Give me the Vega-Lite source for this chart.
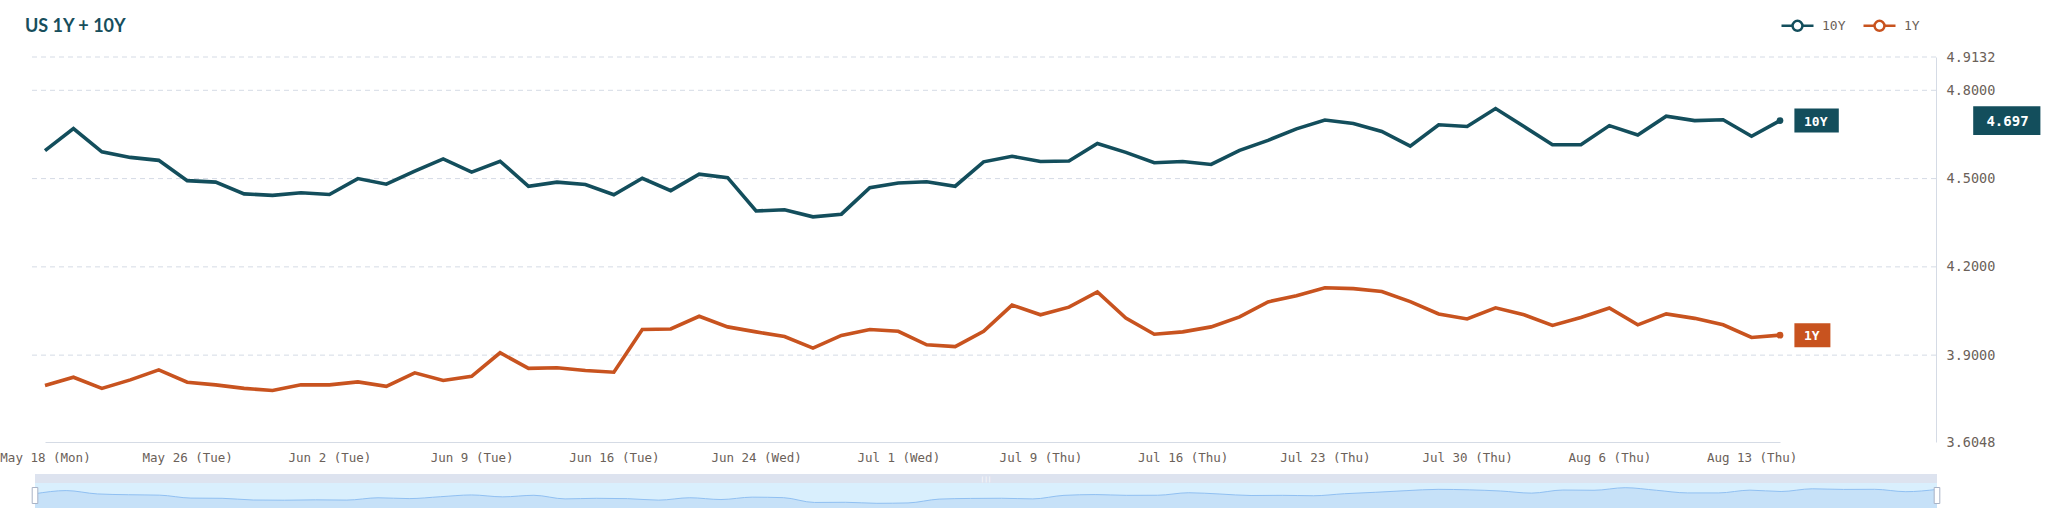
{
  "$schema": "https://vega.github.io/schema/vega-lite/v6.json",
  "description": "US 1Y and 10Y yields, trading days May 18 - Aug 14",
  "width": 1906,
  "height": 385,
  "autosize": {"type": "none"},
  "padding": {"left": 30, "top": 57, "right": 112, "bottom": 71},
  "background": "#ffffff",
  "title": {
    "text": "US 1Y + 10Y",
    "anchor": "start",
    "frame": "group",
    "dx": -5,
    "offset": -42,
    "baseline": "alphabetic",
    "font": "Lato",
    "fontSize": 18,
    "fontWeight": "bold",
    "color": "#174e5c"
  },
  "datasets": {
    "rates": [
      {"date": "2026-05-18", "series": "10Y", "value": 4.595},
      {"date": "2026-05-19", "series": "10Y", "value": 4.670},
      {"date": "2026-05-20", "series": "10Y", "value": 4.591},
      {"date": "2026-05-21", "series": "10Y", "value": 4.572},
      {"date": "2026-05-22", "series": "10Y", "value": 4.562},
      {"date": "2026-05-26", "series": "10Y", "value": 4.493},
      {"date": "2026-05-27", "series": "10Y", "value": 4.488},
      {"date": "2026-05-28", "series": "10Y", "value": 4.448},
      {"date": "2026-05-29", "series": "10Y", "value": 4.443},
      {"date": "2026-06-01", "series": "10Y", "value": 4.452},
      {"date": "2026-06-02", "series": "10Y", "value": 4.446},
      {"date": "2026-06-03", "series": "10Y", "value": 4.500},
      {"date": "2026-06-04", "series": "10Y", "value": 4.481},
      {"date": "2026-06-05", "series": "10Y", "value": 4.525},
      {"date": "2026-06-08", "series": "10Y", "value": 4.567},
      {"date": "2026-06-09", "series": "10Y", "value": 4.522},
      {"date": "2026-06-10", "series": "10Y", "value": 4.559},
      {"date": "2026-06-11", "series": "10Y", "value": 4.474},
      {"date": "2026-06-12", "series": "10Y", "value": 4.488},
      {"date": "2026-06-15", "series": "10Y", "value": 4.480},
      {"date": "2026-06-16", "series": "10Y", "value": 4.445},
      {"date": "2026-06-17", "series": "10Y", "value": 4.501},
      {"date": "2026-06-18", "series": "10Y", "value": 4.459},
      {"date": "2026-06-22", "series": "10Y", "value": 4.515},
      {"date": "2026-06-23", "series": "10Y", "value": 4.503},
      {"date": "2026-06-24", "series": "10Y", "value": 4.390},
      {"date": "2026-06-25", "series": "10Y", "value": 4.394},
      {"date": "2026-06-26", "series": "10Y", "value": 4.370},
      {"date": "2026-06-29", "series": "10Y", "value": 4.379},
      {"date": "2026-06-30", "series": "10Y", "value": 4.469},
      {"date": "2026-07-01", "series": "10Y", "value": 4.485},
      {"date": "2026-07-02", "series": "10Y", "value": 4.489},
      {"date": "2026-07-06", "series": "10Y", "value": 4.474},
      {"date": "2026-07-07", "series": "10Y", "value": 4.557},
      {"date": "2026-07-08", "series": "10Y", "value": 4.576},
      {"date": "2026-07-09", "series": "10Y", "value": 4.558},
      {"date": "2026-07-10", "series": "10Y", "value": 4.560},
      {"date": "2026-07-13", "series": "10Y", "value": 4.619},
      {"date": "2026-07-14", "series": "10Y", "value": 4.589},
      {"date": "2026-07-15", "series": "10Y", "value": 4.554},
      {"date": "2026-07-16", "series": "10Y", "value": 4.558},
      {"date": "2026-07-17", "series": "10Y", "value": 4.548},
      {"date": "2026-07-20", "series": "10Y", "value": 4.596},
      {"date": "2026-07-21", "series": "10Y", "value": 4.630},
      {"date": "2026-07-22", "series": "10Y", "value": 4.669},
      {"date": "2026-07-23", "series": "10Y", "value": 4.699},
      {"date": "2026-07-24", "series": "10Y", "value": 4.687},
      {"date": "2026-07-27", "series": "10Y", "value": 4.660},
      {"date": "2026-07-28", "series": "10Y", "value": 4.610},
      {"date": "2026-07-29", "series": "10Y", "value": 4.683},
      {"date": "2026-07-30", "series": "10Y", "value": 4.677},
      {"date": "2026-07-31", "series": "10Y", "value": 4.738},
      {"date": "2026-08-03", "series": "10Y", "value": 4.677},
      {"date": "2026-08-04", "series": "10Y", "value": 4.615},
      {"date": "2026-08-05", "series": "10Y", "value": 4.615},
      {"date": "2026-08-06", "series": "10Y", "value": 4.680},
      {"date": "2026-08-07", "series": "10Y", "value": 4.648},
      {"date": "2026-08-10", "series": "10Y", "value": 4.712},
      {"date": "2026-08-11", "series": "10Y", "value": 4.697},
      {"date": "2026-08-12", "series": "10Y", "value": 4.700},
      {"date": "2026-08-13", "series": "10Y", "value": 4.644},
      {"date": "2026-08-14", "series": "10Y", "value": 4.697},
      {"date": "2026-05-18", "series": "1Y", "value": 3.797},
      {"date": "2026-05-19", "series": "1Y", "value": 3.825},
      {"date": "2026-05-20", "series": "1Y", "value": 3.787},
      {"date": "2026-05-21", "series": "1Y", "value": 3.816},
      {"date": "2026-05-22", "series": "1Y", "value": 3.850},
      {"date": "2026-05-26", "series": "1Y", "value": 3.808},
      {"date": "2026-05-27", "series": "1Y", "value": 3.799},
      {"date": "2026-05-28", "series": "1Y", "value": 3.787},
      {"date": "2026-05-29", "series": "1Y", "value": 3.780},
      {"date": "2026-06-01", "series": "1Y", "value": 3.799},
      {"date": "2026-06-02", "series": "1Y", "value": 3.799},
      {"date": "2026-06-03", "series": "1Y", "value": 3.809},
      {"date": "2026-06-04", "series": "1Y", "value": 3.794},
      {"date": "2026-06-05", "series": "1Y", "value": 3.840},
      {"date": "2026-06-08", "series": "1Y", "value": 3.814},
      {"date": "2026-06-09", "series": "1Y", "value": 3.828},
      {"date": "2026-06-10", "series": "1Y", "value": 3.908},
      {"date": "2026-06-11", "series": "1Y", "value": 3.855},
      {"date": "2026-06-12", "series": "1Y", "value": 3.857},
      {"date": "2026-06-15", "series": "1Y", "value": 3.848},
      {"date": "2026-06-16", "series": "1Y", "value": 3.842},
      {"date": "2026-06-17", "series": "1Y", "value": 3.987},
      {"date": "2026-06-18", "series": "1Y", "value": 3.989},
      {"date": "2026-06-22", "series": "1Y", "value": 4.032},
      {"date": "2026-06-23", "series": "1Y", "value": 3.996},
      {"date": "2026-06-24", "series": "1Y", "value": 3.979},
      {"date": "2026-06-25", "series": "1Y", "value": 3.963},
      {"date": "2026-06-26", "series": "1Y", "value": 3.924},
      {"date": "2026-06-29", "series": "1Y", "value": 3.967},
      {"date": "2026-06-30", "series": "1Y", "value": 3.987},
      {"date": "2026-07-01", "series": "1Y", "value": 3.981},
      {"date": "2026-07-02", "series": "1Y", "value": 3.935},
      {"date": "2026-07-06", "series": "1Y", "value": 3.929},
      {"date": "2026-07-07", "series": "1Y", "value": 3.981},
      {"date": "2026-07-08", "series": "1Y", "value": 4.070},
      {"date": "2026-07-09", "series": "1Y", "value": 4.037},
      {"date": "2026-07-10", "series": "1Y", "value": 4.063},
      {"date": "2026-07-13", "series": "1Y", "value": 4.115},
      {"date": "2026-07-14", "series": "1Y", "value": 4.026},
      {"date": "2026-07-15", "series": "1Y", "value": 3.971},
      {"date": "2026-07-16", "series": "1Y", "value": 3.979},
      {"date": "2026-07-17", "series": "1Y", "value": 3.996},
      {"date": "2026-07-20", "series": "1Y", "value": 4.030},
      {"date": "2026-07-21", "series": "1Y", "value": 4.081},
      {"date": "2026-07-22", "series": "1Y", "value": 4.102},
      {"date": "2026-07-23", "series": "1Y", "value": 4.129},
      {"date": "2026-07-24", "series": "1Y", "value": 4.126},
      {"date": "2026-07-27", "series": "1Y", "value": 4.116},
      {"date": "2026-07-28", "series": "1Y", "value": 4.082},
      {"date": "2026-07-29", "series": "1Y", "value": 4.040},
      {"date": "2026-07-30", "series": "1Y", "value": 4.023},
      {"date": "2026-07-31", "series": "1Y", "value": 4.061},
      {"date": "2026-08-03", "series": "1Y", "value": 4.037},
      {"date": "2026-08-04", "series": "1Y", "value": 4.001},
      {"date": "2026-08-05", "series": "1Y", "value": 4.028},
      {"date": "2026-08-06", "series": "1Y", "value": 4.060},
      {"date": "2026-08-07", "series": "1Y", "value": 4.003},
      {"date": "2026-08-10", "series": "1Y", "value": 4.040},
      {"date": "2026-08-11", "series": "1Y", "value": 4.025},
      {"date": "2026-08-12", "series": "1Y", "value": 4.003},
      {"date": "2026-08-13", "series": "1Y", "value": 3.960},
      {"date": "2026-08-14", "series": "1Y", "value": 3.968}
    ],
    "gridlines": [
      {"value": 3.9},
      {"value": 4.2},
      {"value": 4.5},
      {"value": 4.8},
      {"value": 4.9132}
    ]
  },
  "data": {"name": "rates"},
  "layer": [
    {
      "encoding": {
        "y": {
          "field": "value",
          "type": "quantitative",
          "scale": {"domain": [3.6048, 4.9132], "nice": false, "zero": false},
          "axis": {
            "orient": "right",
            "values": [3.6048, 3.9, 4.2, 4.5, 4.8, 4.9132],
            "format": ".4f",
            "title": null,
            "ticks": false,
            "labelPadding": 10,
            "labelAlign": "left",
            "labelBaseline": "middle",
            "labelFont": "DejaVu Sans Mono",
            "labelFontSize": 13.5,
            "labelColor": "#6b6159",
            "labelFlush": false,
            "labelBound": false,
            "grid": false,
            "domainColor": "#d5dbe5",
            "domainWidth": 1
          }
        }
      },
      "layer": [
        {
          "data": {"name": "gridlines"},
          "mark": {"type": "rule", "color": "#d5dbe5", "strokeWidth": 1, "strokeDash": [5, 4]},
          "encoding": {}
        },
        {
          "mark": {"type": "line", "strokeWidth": 3.6},
          "encoding": {
            "x": {
              "field": "date",
              "type": "ordinal",
              "scale": {"type": "point", "padding": 0, "range": [15, 1750]},
              "axis": {
                "values": ["2026-05-18", "2026-05-26", "2026-06-02", "2026-06-09", "2026-06-16", "2026-06-24", "2026-07-01", "2026-07-09", "2026-07-16", "2026-07-23", "2026-07-30", "2026-08-06", "2026-08-13"],
                "labelExpr": "utcFormat(toDate(datum.value), '%b %-d (%a)')",
                "title": null,
                "ticks": false,
                "grid": false,
                "labelAngle": 0,
                "labelPadding": 9,
                "labelFont": "DejaVu Sans Mono",
                "labelFontSize": 12.5,
                "labelColor": "#6b6159",
                "labelOverlap": false,
                "labelBound": false,
                "labelFlush": false,
                "domainColor": "#d5dbe5",
                "domainWidth": 1
              }
            },
            "color": {
              "field": "series",
              "type": "nominal",
              "scale": {"domain": ["10Y", "1Y"], "range": ["#134e5c", "#c8531f"]},
              "legend": {
                "orient": "none",
                "legendX": 1750,
                "legendY": -49,
                "direction": "horizontal",
                "title": null,
                "padding": 0,
                "symbolType": "M-1,0H-0.31M0.31,0H1M0.31,0A0.31,0.31,0,1,1,-0.31,0A0.31,0.31,0,1,1,0.31,0",
                "symbolSize": 1024,
                "symbolStrokeWidth": 2.5,
                "symbolFillColor": "#ffffff",
                "labelFont": "DejaVu Sans Mono",
                "labelFontSize": 13,
                "labelColor": "#6b6159",
                "labelOffset": 7,
                "columnPadding": 12
              }
            }
          }
        },
        {
          "transform": [{"filter": "datum.date == '2026-08-14' && datum.series == '10Y'"}],
          "mark": {"type": "point", "filled": true, "size": 45, "opacity": 1, "strokeWidth": 0, "color": "#134e5c"},
          "encoding": {"x": {"field": "date", "type": "ordinal"}}
        },
        {
          "transform": [{"filter": "datum.date == '2026-08-14' && datum.series == '1Y'"}],
          "mark": {"type": "point", "filled": true, "size": 45, "opacity": 1, "strokeWidth": 0, "color": "#c8531f"},
          "encoding": {"x": {"field": "date", "type": "ordinal"}}
        },
        {
          "transform": [{"filter": "datum.date == '2026-08-14' && datum.series == '10Y'"}],
          "mark": {"type": "point", "filled": true, "size": 576, "opacity": 1, "strokeWidth": 0, "color": "#134e5c", "shape": "M1.2,-1H4.9V1H1.2Z"},
          "encoding": {"x": {"field": "date", "type": "ordinal"}}
        },
        {
          "transform": [{"filter": "datum.date == '2026-08-14' && datum.series == '1Y'"}],
          "mark": {"type": "point", "filled": true, "size": 576, "opacity": 1, "strokeWidth": 0, "color": "#c8531f", "shape": "M1.2,-1H4.2V1H1.2Z"},
          "encoding": {"x": {"field": "date", "type": "ordinal"}}
        },
        {
          "transform": [{"filter": "datum.date == '2026-08-14'"}],
          "mark": {"type": "text", "align": "left", "baseline": "middle", "dx": 24, "dy": 1, "font": "DejaVu Sans Mono", "fontSize": 13, "fontWeight": "bold", "color": "#ffffff"},
          "encoding": {"x": {"field": "date", "type": "ordinal"}, "text": {"field": "series"}}
        },
        {
          "transform": [{"filter": "datum.date == '2026-08-14' && datum.series == '10Y'"}],
          "mark": {"type": "point", "filled": true, "size": 576, "opacity": 1, "strokeWidth": 0, "color": "#134e5c", "shape": "M16.1,-1.2H21.7V1.2H16.1Z"},
          "encoding": {"x": {"field": "date", "type": "ordinal"}}
        },
        {
          "transform": [{"filter": "datum.date == '2026-08-14' && datum.series == '10Y'"}],
          "mark": {"type": "text", "align": "center", "baseline": "middle", "dx": 227.5, "dy": 1, "font": "DejaVu Sans Mono", "fontSize": 14, "fontWeight": "bold", "color": "#ffffff"},
          "encoding": {"x": {"field": "date", "type": "ordinal"}, "text": {"field": "value", "type": "quantitative", "format": ".3f"}}
        }
      ]
    },
    {
      "transform": [{"filter": "datum.series == '10Y'"}],
      "encoding": {
        "x": {
          "field": "date",
          "type": "ordinal",
          "scale": {"type": "point", "padding": 0, "range": [5, 1907]},
          "axis": null
        },
        "y": {
          "field": "value",
          "type": "quantitative",
          "scale": {"domain": [4.2596, 5.0604], "range": [451, 417], "nice": false, "zero": false},
          "axis": null
        }
      },
      "layer": [
        {
          "mark": {"type": "area", "color": "#d9effd", "opacity": 1},
          "encoding": {
            "y": {"datum": 4.2596, "type": "quantitative"},
            "y2": {"datum": 4.8484}
          }
        },
        {
          "mark": {"type": "area", "color": "#dde3ef", "opacity": 1},
          "encoding": {
            "y": {"datum": 4.8484, "type": "quantitative"},
            "y2": {"datum": 5.0604}
          }
        },
        {
          "mark": {"type": "area", "color": "#c6e1f8", "opacity": 1, "interpolate": "monotone"},
          "encoding": {"y2": {"datum": 4.2596}}
        },
        {
          "mark": {"type": "line", "color": "#90c0f2", "strokeWidth": 1, "interpolate": "monotone"}
        },
        {
          "transform": [{"filter": "datum.date == '2026-05-18' || datum.date == '2026-08-14'"}],
          "mark": {"type": "point", "filled": true, "size": 64, "fill": "#ffffff", "stroke": "#a9b3c6", "strokeWidth": 1, "opacity": 1, "shape": "M-0.7,-2H0.7V2H-0.7Z"},
          "encoding": {"y": {"datum": 4.554, "type": "quantitative"}}
        },
        {
          "transform": [{"filter": "datum.date == '2026-07-01'"}],
          "mark": {"type": "text", "text": "|||", "fontSize": 6, "color": "#ffffff", "baseline": "middle", "align": "center", "dx": 15.6},
          "encoding": {"y": {"datum": 4.9544, "type": "quantitative"}}
        }
      ]
    }
  ],
  "resolve": {"scale": {"x": "independent", "y": "independent"}},
  "config": {
    "view": {"stroke": null},
    "font": "DejaVu Sans Mono"
  }
}
